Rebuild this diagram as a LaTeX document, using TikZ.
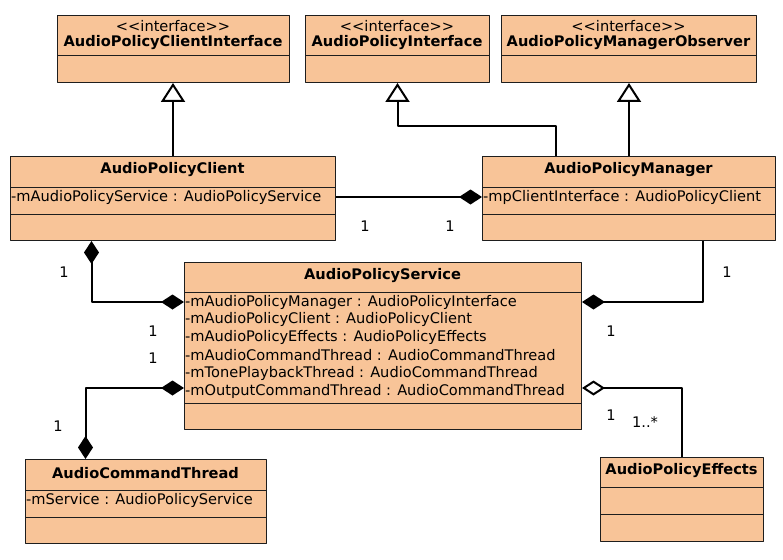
\documentclass[tikz,border=0pt]{standalone}
\usepackage{fontspec}
\setmainfont{DejaVu Sans}
\usetikzlibrary{arrows.meta}
\definecolor{boxc}{RGB}{248,196,152}
\definecolor{linec}{RGB}{30,30,30}
\tikzset{
	classbox/.style={draw=linec, fill=boxc, line width=1pt, anchor=north west, inner sep=0pt},
	divline/.style={draw=linec, line width=1pt},
	ttl/.style={font=\fontsize{14.6}{17.8}\selectfont\bfseries, inner sep=1pt},
	attr/.style={anchor=west, inner sep=1pt},
	mult/.style={inner sep=1pt},
	link/.style={line width=2pt, draw=black},
	gen/.style={link, -{Triangle[fill=white, length=19pt, width=24pt]}},
	comp/.style={link, -{Diamond[length=23pt, width=15pt]}},
	compboth/.style={link, {Diamond[length=23pt, width=15pt]}-{Diamond[length=23pt, width=15pt]}},
	aggr/.style={link, {Diamond[fill=white, length=23pt, width=15pt]}-}
}
\begin{document}
\begin{tikzpicture}[x=1pt, y=-1pt, font=\fontsize{14.6}{17.8}\selectfont, line join=round]
	\useasboundingbox (0,0) rectangle (783,559);
	% interfaces
	\foreach \n/\l/\r/\t in {apci/57/289/AudioPolicyClientInterface, api/305/489/AudioPolicyInterface, apmo/501/756/AudioPolicyManagerObserver}
	{
		\node[classbox, minimum width={(\r-\l)*1pt}, minimum height=67pt] (\n) at (\l,15) {};
		\draw[divline] (\l,56) -- (\r,56);
		\node (\n-s) at ({(\l+\r)/2},26) {\mbox{<}\mbox{<}interface\mbox{>}\mbox{>}};
		\node[ttl] (\n-t) at ({(\l+\r)/2},43) {\t};
	}
	% AudioPolicyClient
	\node[classbox, minimum width=325pt, minimum height=84pt] (apc) at (10,156) {};
	\draw[divline] (10,187) -- (335,187) (10,214) -- (335,214);
	\node[ttl] (apc-t) at (172.5,170) {AudioPolicyClient};
	\node[attr] (apc-a) at (10,197) {-mAudioPolicyService : AudioPolicyService};
	% AudioPolicyManager
	\node[classbox, minimum width=293pt, minimum height=84pt] (apm) at (482,156) {};
	\draw[divline] (482,187) -- (775,187) (482,214) -- (775,214);
	\node[ttl] (apm-t) at (628.5,170) {AudioPolicyManager};
	\node[attr] (apm-a) at (482,197) {-mpClientInterface : AudioPolicyClient};
	% AudioPolicyService
	\node[classbox, minimum width=397pt, minimum height=167pt] (aps) at (184,262) {};
	\draw[divline] (184,292) -- (581,292) (184,403) -- (581,403);
	\node[ttl] (aps-t) at (382.5,276) {AudioPolicyService};
	\foreach \i/\a in {0/{-mAudioPolicyManager : AudioPolicyInterface},
		1/{-mAudioPolicyClient : AudioPolicyClient},
		2/{-mAudioPolicyEffects : AudioPolicyEffects},
		3/{-mAudioCommandThread : AudioCommandThread},
		4/{-mTonePlaybackThread : AudioCommandThread},
		5/{-mOutputCommandThread : AudioCommandThread}}
	\node[attr] (aps-a\i) at (184,{302+17.8*\i}) {\a};
	% AudioCommandThread
	\node[classbox, minimum width=241pt, minimum height=84pt] (act) at (25,459) {};
	\draw[divline] (25,490) -- (266,490) (25,517) -- (266,517);
	\node[ttl] (act-t) at (145.5,473) {AudioCommandThread};
	\node[attr] (act-a) at (25,500) {-mService : AudioPolicyService};
	% AudioPolicyEffects
	\node[classbox, minimum width=163pt, minimum height=84pt] (ape) at (600,457) {};
	\draw[divline] (600,487) -- (763,487) (600,514) -- (763,514);
	\node[ttl] (ape-t) at (681.5,471) {AudioPolicyEffects};
	% generalisations
	\draw[gen] (apc.north) -- (apc.north |- apci.south);
	\draw[gen] (apm.north) -- (apm.north |- apmo.south);
	\draw[gen] ([xshift=-73.5pt]apm.north) -- ++(0,30pt) -| (api.south);
	% associations
	\draw[link, {Diamond[length=23pt, width=15pt]}-] (apm.west |- apm-a) -- (apc.east |- apm-a);
	\draw[compboth] ([xshift=-81.5pt]apc.south) |- (aps.west |- aps-a0);
	\draw[comp] ([xshift=73.5pt]apm.south) |- (aps.east |- aps-a0);
	\draw[compboth] ([xshift=-60.5pt]act.north) |- ([yshift=3pt]aps.west |- aps-a5);
	\draw[aggr] ([yshift=3pt]aps.east |- aps-a5) -| (ape.north);
	% multiplicities
	\foreach \n/\x/\y in {m1/365/226, m2/450/226, m3/64/272, m4/153/331, m5/727/272, m6/611/331, m7/153/358, m8/58/426, m9/611/415}
	\node[mult] (\n) at (\x,\y) {1};
	\node[mult] (m10) at (645,422) {1..*};
\end{tikzpicture}
\end{document}
